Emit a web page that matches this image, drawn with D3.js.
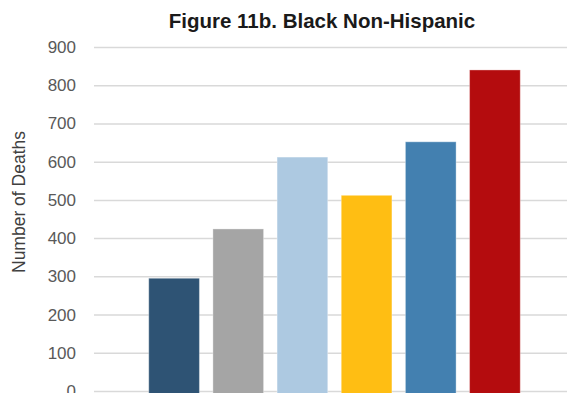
<!DOCTYPE html>
<html lang="en">
<head>
    <meta charset="UTF-8">
    <title>Figure 11b. Black Non-Hispanic</title>
    <script src="https://cdnjs.cloudflare.com/ajax/libs/d3/7.8.5/d3.min.js"></script>
    <style>
        body {
            margin: 0;
            overflow: hidden;
            background: #fff;
            font-family: "Liberation Sans", Arial, sans-serif;
        }
    </style>
</head>
<body>
    <script>
        // Data
        const categories = ['A', 'B', 'C', 'D', 'E', 'F'];
        const deaths = [295, 424, 612, 512, 652, 840];
        const colors = ['#2E5374', '#A5A5A5', '#ADC9E1', '#FFBE13', '#4380B0', '#B40C0E'];
        const yTicks = [0, 100, 200, 300, 400, 500, 600, 700, 800, 900];

        const width = 567;
        const height = 393;

        const svg = d3.select('body')
            .append('svg')
            .attr('width', width)
            .attr('height', height);

        const y = d3.scaleLinear()
            .domain([0, 900])
            .range([391, 47]);

        const x = d3.scaleBand()
            .domain(categories)
            .range([142, 527])
            .paddingInner(0.21)
            .paddingOuter(0.105);

        // Gridlines + tick labels
        const yAxis = svg.append('g')
            .attr('transform', 'translate(94,0)')
            .call(d3.axisLeft(y).tickValues(yTicks).tickSize(-(width - 94)).tickPadding(18));

        yAxis.select('.domain').remove();
        yAxis.selectAll('.tick line')
            .attr('stroke', '#d9d9d9')
            .attr('stroke-width', 1.5);
        yAxis.selectAll('.tick text')
            .attr('fill', '#595959')
            .style('font-size', '17px')
            .style('font-family', '"Liberation Sans", Arial, sans-serif');

        // Bars
        svg.selectAll('rect.bar')
            .data(deaths)
            .enter()
            .append('rect')
            .attr('class', 'bar')
            .attr('x', (d, i) => x(categories[i]))
            .attr('y', d => y(d))
            .attr('width', x.bandwidth())
            .attr('height', d => y(0) - y(d) + 10)
            .attr('fill', (d, i) => colors[i])
            .attr('stroke', 'rgba(255,255,255,0.35)')
            .attr('stroke-width', 1);

        // Title
        svg.append('text')
            .attr('x', 322)
            .attr('y', 28)
            .attr('text-anchor', 'middle')
            .style('font-size', '20.5px')
            .style('font-weight', 'bold')
            .attr('fill', '#1a1a1a')
            .text('Figure 11b. Black Non-Hispanic');

        // Y axis label
        svg.append('text')
            .attr('transform', 'translate(25,202) rotate(-90)')
            .attr('text-anchor', 'middle')
            .style('font-size', '17.5px')
            .attr('fill', '#404040')
            .text('Number of Deaths');
    </script>
</body>
</html>
